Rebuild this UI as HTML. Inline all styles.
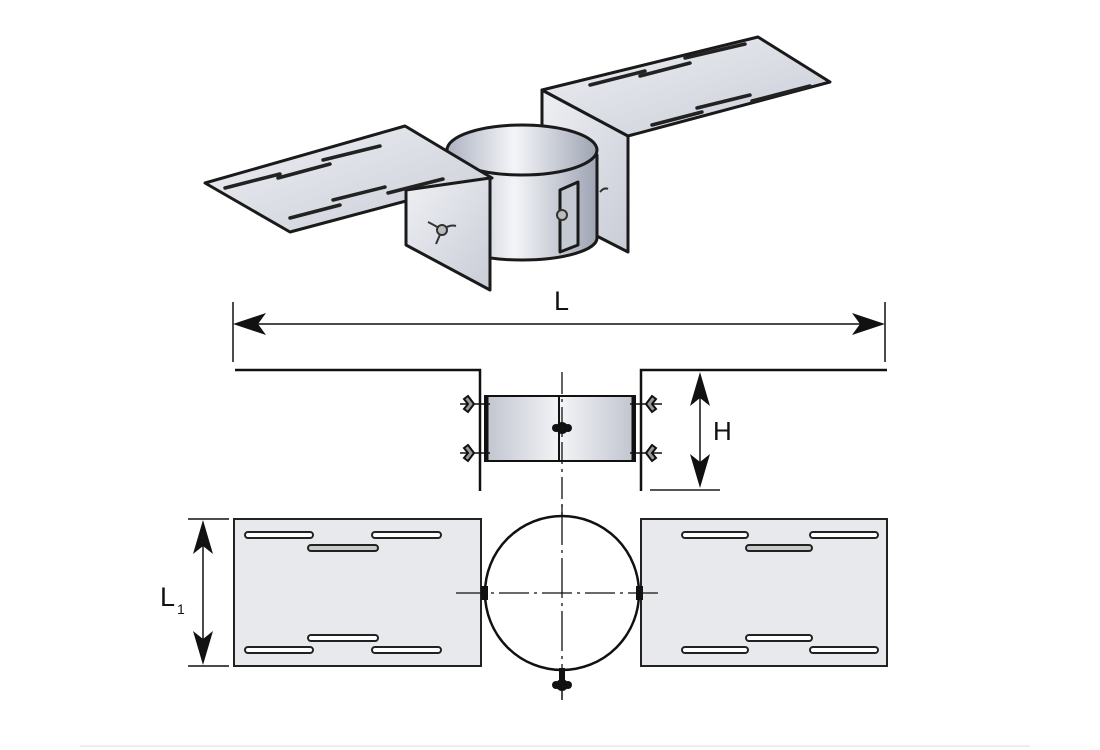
<!DOCTYPE html>
<html><head><meta charset="utf-8"><style>
html,body{margin:0;padding:0;background:#fff;}
svg{display:block;}
text{font-family:"Liberation Sans",Arial,sans-serif;}
</style></head><body>
<svg width="1100" height="750" viewBox="0 0 1100 750" xmlns="http://www.w3.org/2000/svg">
<defs>
<linearGradient id="cyl" x1="0" x2="1" y1="0" y2="0">
<stop offset="0" stop-color="#aeb3c0"/><stop offset="0.45" stop-color="#f4f5f8"/><stop offset="1" stop-color="#9ea4b3"/>
</linearGradient>
<linearGradient id="cyl2" x1="0" x2="1">
<stop offset="0" stop-color="#c0c4ce"/><stop offset="0.5" stop-color="#f3f4f7"/><stop offset="1" stop-color="#c0c4ce"/>
</linearGradient>
<linearGradient id="plate" x1="0" x2="1" y1="0" y2="1">
<stop offset="0" stop-color="#eef0f4"/><stop offset="1" stop-color="#c9ccd6"/>
</linearGradient>
</defs>

<!-- 3D view -->
<g stroke="#1a1a1a" stroke-width="3" stroke-linejoin="round">
<polygon points="542,90 628,136 628,252 542,208" fill="url(#plate)"/>
<path d="M447,155 L447,238 A75,22 0 0 0 597,238 L597,155 Z" fill="url(#cyl)"/>
<ellipse cx="522" cy="150" rx="75" ry="25" fill="url(#cyl)"/>
<polygon points="542,90 758,37 830,82 628,136" fill="url(#plate)"/>
<polygon points="560,190 578,182 578,245 560,252" fill="#c5c9d2"/>
<polygon points="205,183 405,126 492,178 290,232" fill="url(#plate)"/>
<polygon points="406,190 490,178 490,290 406,245" fill="url(#plate)"/>
</g>
<g stroke="#222" stroke-width="3.5" stroke-linecap="round">
<line x1="225" y1="188" x2="280" y2="174"/><line x1="278" y1="178" x2="330" y2="164"/><line x1="323" y1="160" x2="380" y2="146"/>
<line x1="290" y1="218" x2="340" y2="205"/><line x1="333" y1="200" x2="385" y2="187"/><line x1="388" y1="193" x2="443" y2="179"/>
<line x1="590" y1="85" x2="645" y2="71"/><line x1="640" y1="76" x2="690" y2="63"/><line x1="685" y1="58" x2="745" y2="44"/>
<line x1="652" y1="125" x2="702" y2="112"/><line x1="697" y1="108" x2="750" y2="95"/><line x1="752" y1="101" x2="810" y2="86"/>
</g>
<g stroke="#333" stroke-width="2" fill="#bbb">
<path d="M428,222 q8,4 14,8 q8,-6 14,-4" fill="none"/><path d="M436,244 l6,-14" fill="none"/>
<circle cx="442" cy="230" r="5"/>
<circle cx="562" cy="215" r="5"/>
<path d="M600,192 q4,-5 8,-3" fill="none"/>
</g>

<!-- L dimension -->
<g stroke="#111" stroke-width="1.5">
<line x1="233" y1="302" x2="233" y2="362"/>
<line x1="885" y1="302" x2="885" y2="362"/>
<line x1="240" y1="324" x2="878" y2="324"/>
</g>
<g fill="#111">
<path d="M233,324 L266,313 L258,324 L266,335 z"/>
<path d="M885,324 L852,313 L860,324 L852,335 z"/>
</g>
<text x="554" y="310" font-size="27" fill="#111">L</text>

<!-- front view -->
<g stroke="#111" stroke-width="2.5" fill="none">
<polyline points="235,370 480,370 480,491"/>
<polyline points="887,370 641,370 641,491"/>
</g>
<rect x="485" y="396" width="150" height="65" fill="url(#cyl2)" stroke="#111" stroke-width="2"/>
<line x1="559" y1="396" x2="559" y2="461" stroke="#111" stroke-width="2"/>
<line x1="487" y1="396" x2="487" y2="461" stroke="#111" stroke-width="3"/>
<line x1="633" y1="396" x2="633" y2="461" stroke="#111" stroke-width="3"/>
<line x1="562" y1="372" x2="562" y2="700" stroke="#111" stroke-width="1.3" stroke-dasharray="22,5,3,5"/>
<g fill="#111">
<circle cx="562" cy="428" r="6"/><circle cx="556" cy="428" r="4"/><circle cx="568" cy="428" r="4"/>
</g>
<g stroke="#111" stroke-width="1.5" fill="none">
<line x1="460" y1="404" x2="490" y2="404"/><line x1="460" y1="453" x2="490" y2="453"/>
<line x1="630" y1="404" x2="662" y2="404"/><line x1="630" y1="453" x2="662" y2="453"/>
</g>
<g stroke="#111" stroke-width="2" fill="#999">
<path d="M468,396 l6,8 l-6,8 l-4,-3 l4,-5 l-4,-5 z"/><path d="M468,445 l6,8 l-6,8 l-4,-3 l4,-5 l-4,-5 z"/>
<path d="M652,396 l-6,8 l6,8 l4,-3 l-4,-5 l4,-5 z"/><path d="M652,445 l-6,8 l6,8 l4,-3 l-4,-5 l4,-5 z"/>
</g>
<!-- H dimension -->
<line x1="650" y1="490" x2="720" y2="490" stroke="#555" stroke-width="2"/>
<line x1="700" y1="380" x2="700" y2="482" stroke="#111" stroke-width="1.5"/>
<g fill="#111">
<path d="M700,372 L690,406 L700,398 L710,406 z"/>
<path d="M700,488 L690,454 L700,462 L710,454 z"/>
</g>
<text x="713" y="440" font-size="26" fill="#111">H</text>

<!-- bottom view -->
<rect x="234" y="519" width="247" height="147" fill="#e8e9ed" stroke="#222" stroke-width="2"/>
<rect x="641" y="519" width="246" height="147" fill="#e8e9ed" stroke="#222" stroke-width="2"/>
<g fill="#fff" stroke="#222" stroke-width="2">
<rect x="245" y="532" width="68" height="6" rx="3"/><rect x="372" y="532" width="69" height="6" rx="3"/><rect x="308" y="545" width="70" height="6" rx="3" fill="#c8c8c8"/>
<rect x="245" y="647" width="68" height="6" rx="3"/><rect x="372" y="647" width="69" height="6" rx="3"/><rect x="308" y="635" width="70" height="6" rx="3"/>
<rect x="682" y="532" width="66" height="6" rx="3"/><rect x="810" y="532" width="68" height="6" rx="3"/><rect x="746" y="545" width="66" height="6" rx="3" fill="#c8c8c8"/>
<rect x="682" y="647" width="66" height="6" rx="3"/><rect x="810" y="647" width="68" height="6" rx="3"/><rect x="746" y="635" width="66" height="6" rx="3"/>
</g>
<circle cx="562" cy="593" r="77" fill="#fff" stroke="#111" stroke-width="2.5"/>
<line x1="456" y1="593" x2="658" y2="593" stroke="#111" stroke-width="1.3" stroke-dasharray="30,5,3,5"/>
<line x1="562" y1="505" x2="562" y2="700" stroke="#111" stroke-width="1.3" stroke-dasharray="40,5,3,5"/>
<g fill="#111">
<rect x="481" y="586" width="7" height="14"/><rect x="636" y="586" width="7" height="14"/>
<rect x="559" y="668" width="6" height="12"/><circle cx="562" cy="685" r="6"/><circle cx="556" cy="685" r="4"/><circle cx="568" cy="685" r="4"/>
</g>
<!-- L1 dimension -->
<g stroke="#111" stroke-width="1.5">
<line x1="188" y1="519" x2="229" y2="519"/><line x1="188" y1="666" x2="229" y2="666"/>
<line x1="203" y1="528" x2="203" y2="658"/>
</g>
<g fill="#111">
<path d="M203,520 L193,554 L203,546 L213,554 z"/>
<path d="M203,665 L193,631 L203,639 L213,631 z"/>
</g>
<text x="160" y="606" font-size="27" fill="#111">L</text>
<text x="177" y="614" font-size="14" fill="#111">1</text>

<line x1="80" y1="746" x2="1030" y2="746" stroke="#eeeeee" stroke-width="2"/>
</svg>
</body></html>
